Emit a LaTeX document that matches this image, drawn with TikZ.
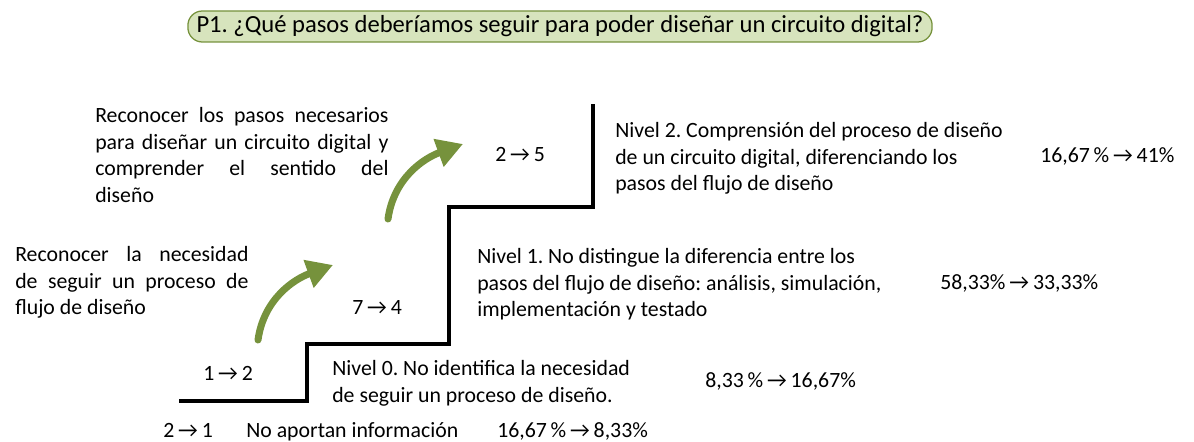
\documentclass[tikz,border=0pt]{standalone}
\usepackage{fontspec}
\setmainfont{Carlito}
\usetikzlibrary{arrows.meta}
\frenchspacing
\definecolor{verdeoliva}{RGB}{118,146,60}
\definecolor{verdeclaro}{RGB}{215,228,189}
\newcommand{\fl}{\hspace{0.18em}→\hspace{0.18em}}
\tikzset{x=0.025cm,y=0.025cm}
\tikzset{pregunta/.style={rectangle,rounded corners=0.36cm,fill=verdeclaro,draw=verdeoliva,line width=0.9pt,minimum width=18.6cm,minimum height=0.775cm,inner sep=0mm,font=\fontsize{17.5}{19}\selectfont}}
\tikzset{texto/.style={inner sep=0mm,font=\fontsize{15.5}{19}\selectfont}}
\tikzset{bloque/.style={texto,align=justify,anchor=north west}}
\tikzset{nivel/.style={texto,align=left,anchor=north west}}
\tikzset{cambio/.style={texto,anchor=base west}}
\tikzset{escalon/.style={line width=2.2pt,line join=miter}}
\tikzset{subida/.style={line width=5pt,draw=verdeoliva,line cap=round,-{Triangle[length=0.65cm,width=0.7cm]}}}

\begin{document}
\begin{tikzpicture}
    \useasboundingbox (0,0) rectangle (1194,441);

    \node[pregunta] (p1) at (560,414.5) {P1. ¿Qué pasos deberíamos seguir para poder diseñar un circuito digital?};

    % escalera
    \coordinate (e0) at (179,40);
    \coordinate (e1) at (307,40);
    \coordinate (e2) at (307,97);
    \coordinate (e3) at (449,97);
    \coordinate (e4) at (449,234);
    \coordinate (e5) at (593,234);
    \coordinate (e6) at (593,337);
    \draw[escalon] (e0) -- (e1) -- (e2) -- (e3) -- (e4) -- (e5) -- (e6);

    % flechas verdes
    \coordinate (s1) at (258,101);
    \coordinate (t1) at (333,176);
    \coordinate (s2) at (388,222);
    \coordinate (t2) at (463,297);
    \draw[subida] (s1) to[out=82,in=-160] (t1);
    \draw[subida] (s2) to[out=82,in=-160] (t2);

    \node[bloque,text width=7.33cm] (pasos) at (95,334) {Reconocer los pasos necesarios\linebreak para diseñar un circuito digital y\linebreak comprender el sentido del\linebreak diseño};
    \node[bloque,text width=5.83cm] (necesidad) at (15,195) {Reconocer la necesidad\linebreak de seguir un proceso de\linebreak flujo de diseño};

    \node[nivel] (n2) at (615,319) {Nivel 2. Comprensión del proceso de diseño\\de un circuito digital, diferenciando los\\pasos del flujo de diseño};
    \node[nivel] (n1) at (477,193) {Nivel 1. No distingue la diferencia entre los\\pasos del flujo de diseño: análisis, simulación,\\implementación y testado};
    \node[nivel] (n0) at (332,81) {Nivel 0. No identifica la necesidad\\de seguir un proceso de diseño.};

    \node[cambio] (c25) at (495,279) {2\fl 5};
    \node[cambio] (c74) at (352,127) {7\fl 4};
    \node[cambio] (c12) at (203,61) {1\fl 2};
    \node[cambio] (c21) at (163,4) {2\fl 1};
    \node[cambio] (na) at (246,4) {No aportan información};

    \node[cambio] (pct2) at (1040,278) {16,67\,\%\fl 41\%};
    \node[cambio] (pct1) at (940,152) {58,33\%\fl 33,33\%};
    \node[cambio] (pct0) at (705,54) {8,33\,\%\fl 16,67\%};
    \node[cambio] (pctna) at (497,4) {16,67\,\%\fl 8,33\%};
  \end{tikzpicture}
\end{document}
